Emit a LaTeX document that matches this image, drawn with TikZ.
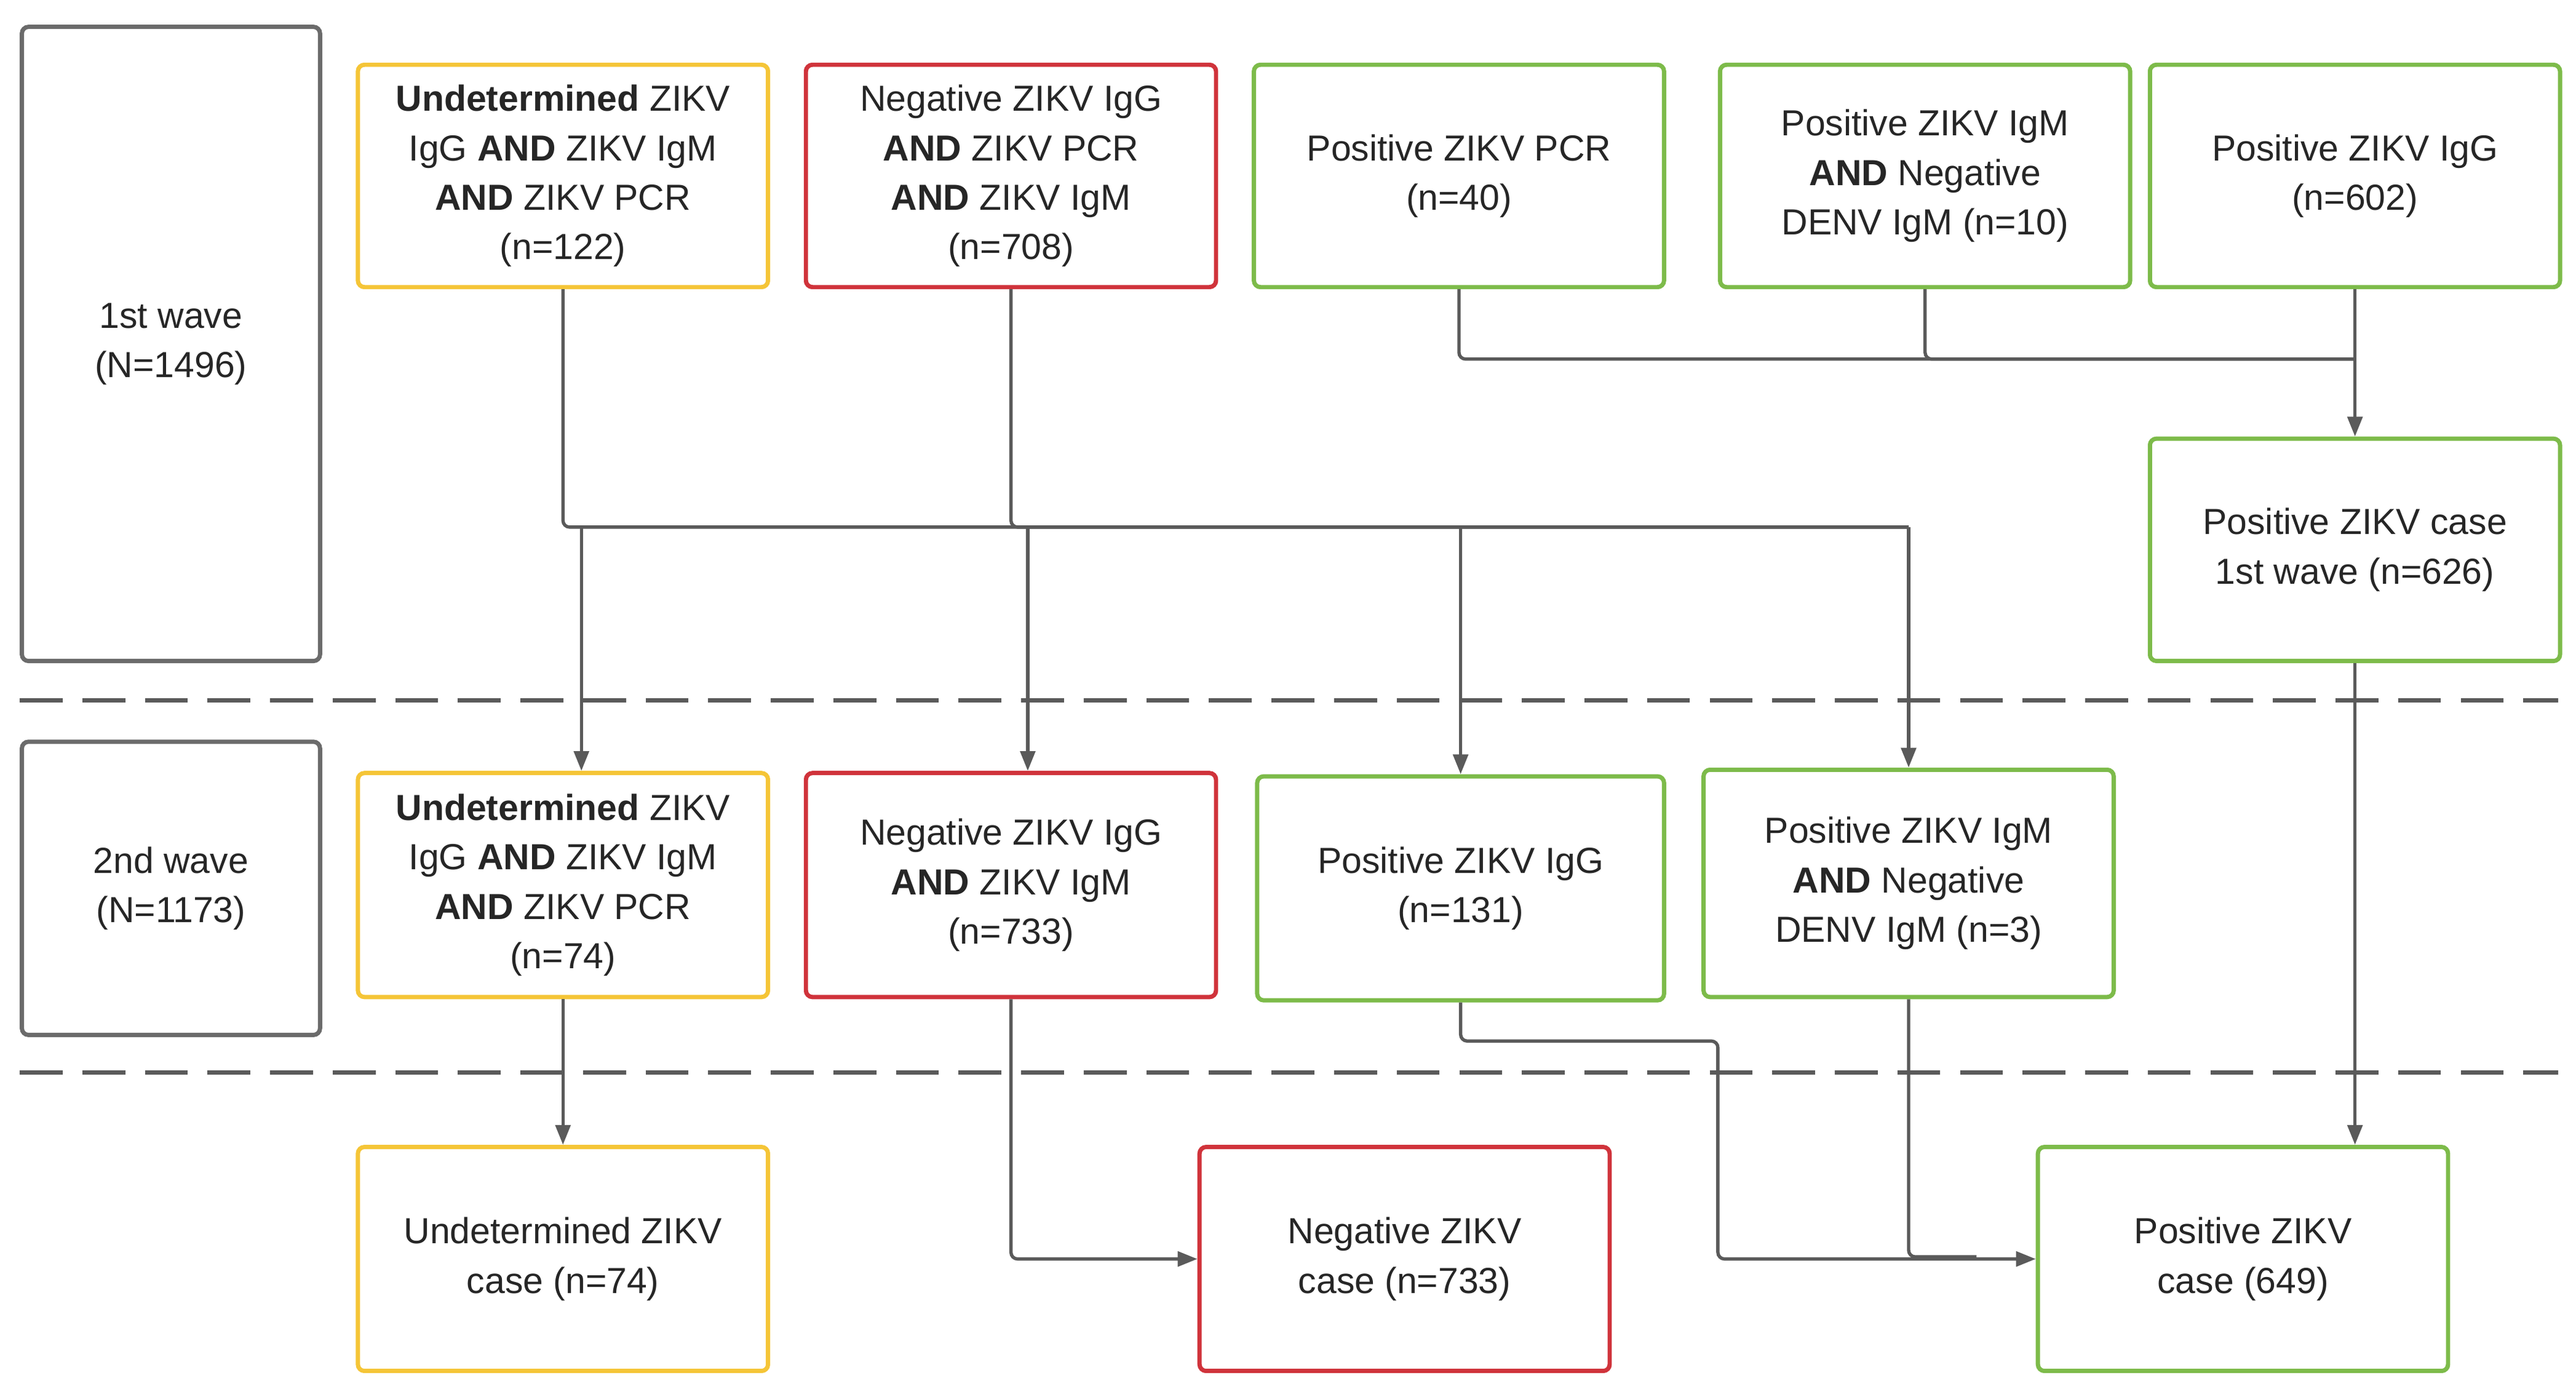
\documentclass[tikz,border=0pt]{standalone}
\usepackage{fontspec}
\setmainfont{Liberation Sans}
\usetikzlibrary{arrows.meta}
\definecolor{yel}{HTML}{F5C537}
\definecolor{rd}{HTML}{D0333B}
\definecolor{gr}{HTML}{7DBB4A}
\definecolor{gy}{HTML}{5A5A5A}
\begin{document}
\begin{tikzpicture}[x=1pt,y=-1pt,
 box/.style={draw,line width=2.6pt,rounded corners=4pt,align=center,inner sep=0pt,font=\fontsize{22}{30}\selectfont,text=black!85},
 bx/.style args={#1/#2/#3/#4}{box,minimum width=#3,minimum height=#4,anchor=north west,at={(#1,#2)}},
 Y/.style={draw=yel},R/.style={draw=rd},G/.style={draw=gr},K/.style={draw=gy!90},
 con/.style={draw=gy,line width=2pt,rounded corners=4pt},
 arr/.style={con,-{Triangle[length=12pt,width=9pt]}}]
\useasboundingbox (0,0) rectangle (1564,843);
\node[bx=12/15/181pt/385pt,K] (w1) {1st wave\\(N=1496)};
\node[bx=12/449/181pt/178pt,K] (w2) {2nd wave\\(N=1173)};
\node[bx=216/38/249pt/135pt,Y] (u1) {\textbf{Undetermined} ZIKV\\IgG \textbf{AND} ZIKV IgM\\\textbf{AND} ZIKV PCR\\(n=122)};
\node[bx=488/38/249pt/135pt,R] (n1) {Negative ZIKV IgG\\\textbf{AND} ZIKV PCR\\\textbf{AND} ZIKV IgM\\(n=708)};
\node[bx=760/38/249pt/135pt,G] (p1a) {Positive ZIKV PCR\\(n=40)};
\node[bx=1043/38/249pt/135pt,G] (p1b) {Positive ZIKV IgM\\\textbf{AND} Negative\\DENV IgM (n=10)};
\node[bx=1304/38/249pt/135pt,G] (p1c) {Positive ZIKV IgG\\(n=602)};
\node[bx=1304/265/249pt/135pt,G] (pc1) {Positive ZIKV case\\1st wave (n=626)};
\node[bx=216/468/249pt/136pt,Y] (u2) {\textbf{Undetermined} ZIKV\\IgG \textbf{AND} ZIKV IgM\\\textbf{AND} ZIKV PCR\\(n=74)};
\node[bx=488/468/249pt/136pt,R] (n2) {Negative ZIKV IgG\\\textbf{AND} ZIKV IgM\\(n=733)};
\node[bx=762/470/247pt/136pt,G] (p2a) {Positive ZIKV IgG\\(n=131)};
\node[bx=1033/466/249pt/138pt,G] (p2b) {Positive ZIKV IgM\\\textbf{AND} Negative\\DENV IgM (n=3)};
\node[bx=216/695/249pt/136pt,Y] (u3) {Undetermined ZIKV\\case (n=74)};
\node[bx=727/695/249pt/136pt,R] (n3) {Negative ZIKV\\case (n=733)};
\node[bx=1236/695/249pt/136pt,G] (p3) {Positive ZIKV\\case (649)};
\draw[gy,line width=2.6pt,dash pattern=on 26pt off 12pt] (12,425) -- (1553,425) (12,651) -- (1553,651);
% bus
\coordinate (y0) at (0,320);
\coordinate (b0) at (u1.south |- y0); \coordinate (b1) at (p2b.north |- y0);
\coordinate (j1) at (353,320); \coordinate (j2) at (624,320); \coordinate (j3) at (p2a.north |- y0);
\draw[con] (u1.south) -- (b0) -- (b1);
\draw[con] (n1.south) |- (b1);
\draw[arr] (j1) -- (j1 |- u2.north);
\draw[arr] (j2) -- (j2 |- n2.north);
\draw[arr] (j3) -- (p2a.north);
\draw[arr] (b1) -- (p2b.north);
% top right
\coordinate (t1) at (p1c.south |- 0,218);
\draw[con] (p1a.south) |- (t1);
\draw[con] (p1b.south) |- (t1);
\draw[arr] (p1c.south) -- (pc1.north);
\draw[arr] (pc1.south) -- (pc1.south |- p3.north);
\draw[arr] (u2.south) -- (u3.north);
\draw[arr] (n2.south) |- (n3.west);
\coordinate (k1) at (1043,632);
\draw[arr] (p2a.south) |- (k1) |- (p3.west);
\draw[con] (p2b.south) |- (1200,763);
\end{tikzpicture}
\end{document}
